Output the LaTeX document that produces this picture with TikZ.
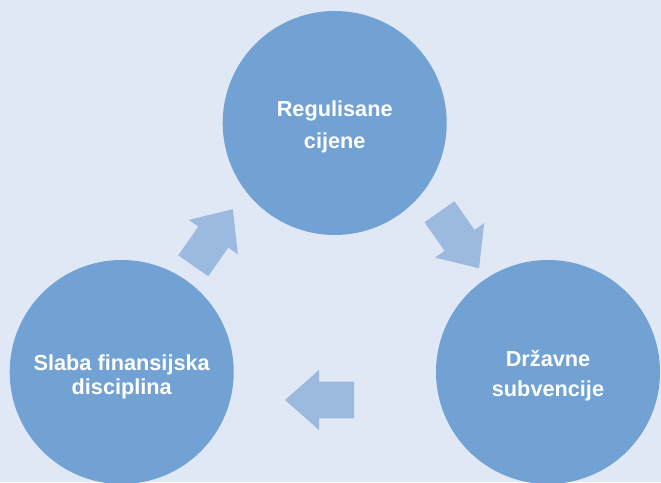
\documentclass[tikz,border=0pt]{standalone}
\usepackage{fontspec}
\setmainfont{Liberation Sans}
\usepackage{tikz}
\usetikzlibrary{
  positioning,
  calc
}
\definecolor{pagebg}{RGB}{223,232,244}
\definecolor{bubblefill}{RGB}{113,162,211}
\definecolor{arrowfill}{RGB}{156,186,224}
\tikzset{
  node distance=249pt and 213pt,
  bubble/.style={circle, fill=bubblefill, minimum size=224pt, inner sep=0pt},
  bubbletext/.style={text=white, align=center, inner sep=0pt,
    font=\fontsize{21.7}{#1}\selectfont\bfseries},
  bubbletext/.default=32,
  cyclearrow/.pic={
    \fill[arrowfill] (-34.5,-18.3) -- (0.5,-18.3) -- (0.5,-30) -- (34.5,0)
      -- (0.5,30) -- (0.5,18.3) -- (-34.5,18.3) -- cycle;
  }
}

\begin{document}
\begin{tikzpicture}[x=1pt, y=1pt]
    \useasboundingbox (0,0) rectangle (661,482);
    \fill[pagebg] (0,0) rectangle (661,482);
    \node[bubble] (reg) at (334.7,359) {};
    \node[bubble, on grid, below right=249pt and 213.3pt of reg] (drz) {};
    \node[bubble, on grid, below left=249pt and 213pt of reg] (slaba) {};
    \node[bubbletext, yshift=-3.7pt] (reg-txt) at (reg) {Regulisane\\cijene};
    \node[bubbletext=30, yshift=-4pt] (drz-txt) at (drz) {Državne\\subvencije};
    \node[bubbletext=24, yshift=-5.3pt] (slaba-txt) at (slaba) {Slaba finansijska\\disciplina};
    % strelice ciklusa
    \pic[rotate=-55] at ($(reg)!0.5!(drz)+(17.9,7.5)$) {cyclearrow};
    \pic[rotate=180] at ($(drz)!0.5!(slaba)+(-15.3,-28)$) {cyclearrow};
    \pic[rotate=55] at ($(slaba)!0.5!(reg)+(-15.2,10)$) {cyclearrow};
\end{tikzpicture}
\end{document}
